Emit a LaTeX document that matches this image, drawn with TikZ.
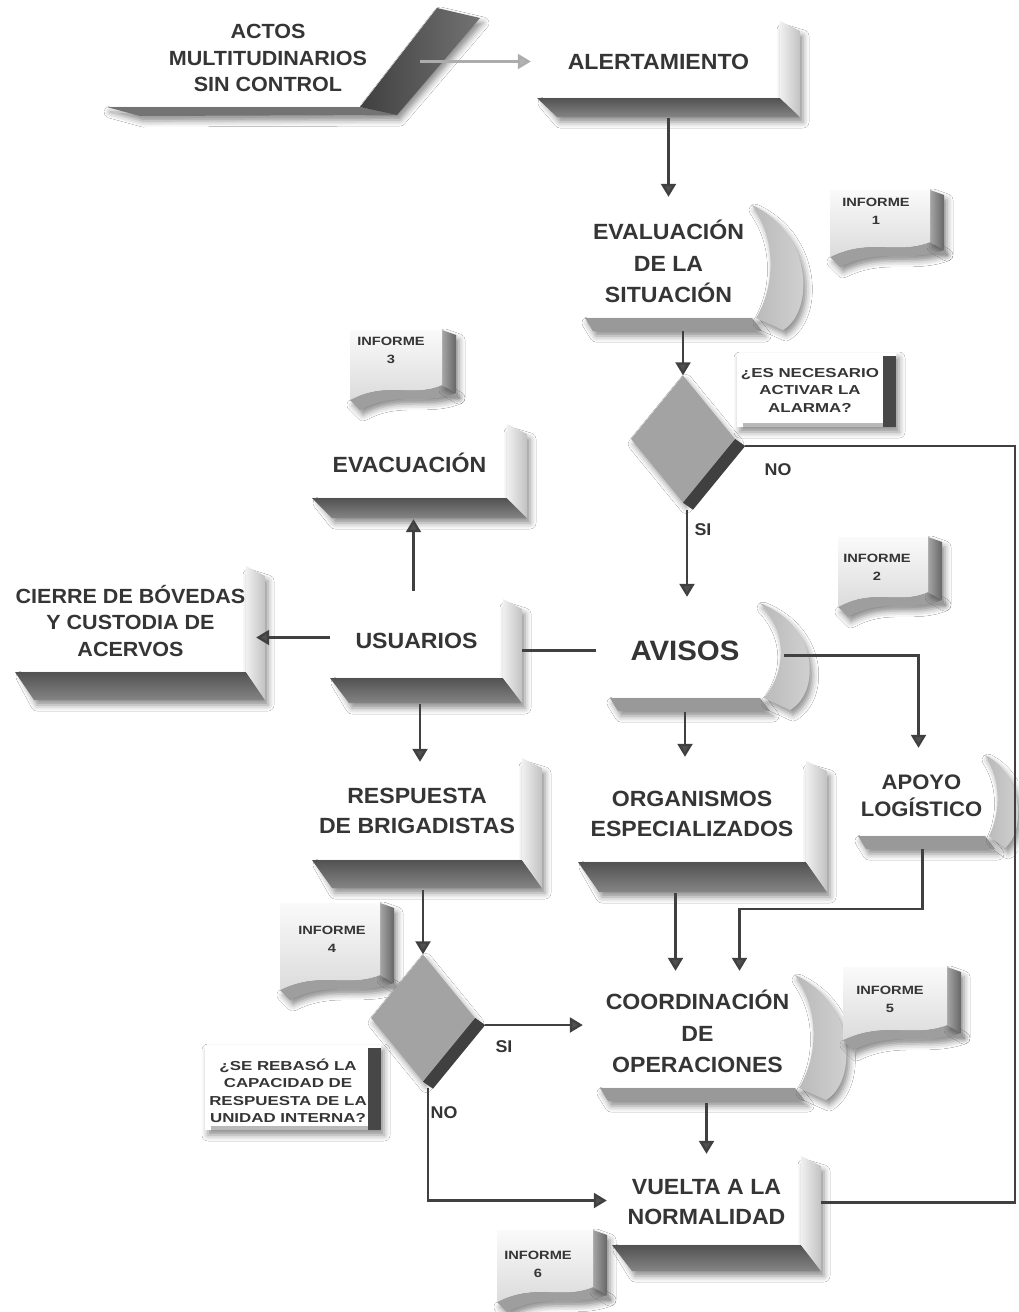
\documentclass[tikz,border=0pt]{standalone}
\usepackage{fontspec}
\setmainfont{Liberation Sans}[FakeStretch=1.05]
\newfontfamily\smallf{Liberation Sans}[FakeStretch=1.22]
\newfontfamily\qf{Liberation Sans}[FakeStretch=1.3]
\usetikzlibrary{arrows.meta,shapes.geometric,shadows.blur,calc}
\definecolor{ink}{HTML}{353535}
\definecolor{lne}{HTML}{404040}
\definecolor{tipc}{HTML}{505050}
\tikzset{
  bigtxt/.style={font=\fontsize{22}{30}\selectfont\bfseries, text=ink, align=center, inner sep=0pt},
  midtxt/.style={bigtxt, font=\fontsize{20.5}{26.5}\selectfont\bfseries},
  evtxt/.style={bigtxt, font=\fontsize{22}{31.5}\selectfont\bfseries},
  aptxt/.style={bigtxt, font=\fontsize{21}{27}\selectfont\bfseries},
  avtxt/.style={bigtxt, font=\fontsize{28}{32}\selectfont\bfseries},
  inftxt/.style={font=\smallf\bfseries\fontsize{12}{18}\selectfont, text=ink, align=center, inner sep=0pt},
  qtxt/.style={font=\qf\bfseries\fontsize{13}{17.5}\selectfont, text=ink, align=center, inner sep=0pt},
  yesno/.style={font=\fontsize{17}{20}\selectfont\bfseries, text=ink, inner sep=0pt},
  conn/.style={draw=lne, line width=2.3pt},
  arr/.style={conn, -{Triangle[width=15pt,length=13pt,fill=tipc]}},
  arrlight/.style={draw=gray!65, line width=2.3pt, -{Triangle[width=15pt,length=13pt,fill=gray!60]}},
  sh/.style={blur shadow={shadow xshift=3pt, shadow yshift=-5pt, shadow blur radius=6pt, shadow opacity=45}},
  bottomface/.style={top color=black!68, bottom color=black!48},
  sideface/.style={left color=gray!12, right color=gray!48},
  crescent/.style={left color=gray!55, right color=gray!33},
  decface/.style={shape=diamond, fill=black!36, inner sep=0pt, aspect=0.82},
}
% process box: name, x1, y1, x2, y2, dx, dy, text style, text
\newcommand\procbox[9]{%
  \path[sh] (#2+4,#5) -- (#4,#5) -- (#4,#3) -- (#4+#6,#3+6) -- (#4+#6,#5+#7) -- (#2+#6,#5+#7) -- cycle;
  \path[bottomface] (#2,#5) -- (#4,#5) -- (#4+#6,#5+#7) -- (#2+#6,#5+#7) -- cycle;
  \path[sideface] (#4,#3-4) -- (#4+#6,#3+6) -- (#4+#6,#5+#7) -- (#4,#5) -- cycle;
  \node[#8, minimum width={(#4-#2)*1pt}, minimum height={(#5-#3)*1pt}] (#1) at ({(#2+#4)/2},{(#3+#5)/2}) {#9};
}
% curved box: name, x1, y1, x2, y2, inner bulge, outer bulge, style, text
\newcommand\curvbox[9]{%
  \path[sh, fill=black!40] (#2,#5) -- (#4,#5) -- (#4+10,#5+13) -- (#2+8,#5+13) -- cycle;
  \path[sh, crescent] (#4,#3) .. controls (#4+#7,#3+0.25*#5-0.25*#3) and (#4+#7,#5-0.05*#5+0.05*#3) .. (#4+0.5*#7,#5+12)
     -- (#4+4,#5) .. controls (#4+#6,#5-0.3*#5+0.3*#3) and (#4+#6,#3+0.3*#5-0.3*#3) .. (#4,#3) -- cycle;
  \node[#8, minimum width={(#4-#2)*1pt}, minimum height={(#5-#3)*1pt}] (#1) at ({(#2+#4)/2},{(#3+#5)/2}) {#9};
}
% decision diamond: name, cx, cy
\newcommand\decbox[3]{%
  \node[decface, minimum width=104pt, minimum height=127pt, sh] (#1) at (#2,#3) {};
  \path[fill=black!75] (#1.east) -- ($(#1.east)+(10pt,-7pt)$) -- ($(#1.south)+(10pt,-7pt)$) -- (#1.south) -- cycle;
}
% document (INFORME) box: x1, y1, x2, y2
\newcommand\docbox[4]{%
  \path[sh, fill=black!38] (#1,#4) .. controls (#1+0.4*#3-0.4*#1,#4-20) and (#3-0.35*#3+0.35*#1,#4-2) .. (#3,#4-15)
     -- (#3+14,#4-7) .. controls (#3+14-0.35*#3+0.35*#1,#4+6) and (#1+10+0.4*#3-0.4*#1,#4-10) .. (#1+10,#4+10) -- cycle;
  \path[sh, left color=black!35, right color=black!60] (#3,#2) -- (#3+14,#2+5) -- (#3+14,#4-7) -- (#3,#4-15) -- cycle;
  \path[top color=gray!4, bottom color=gray!28] (#1,#2) -- (#3,#2) -- (#3,#4-15) .. controls (#3-0.35*#3+0.35*#1,#4-2) and (#1+0.4*#3-0.4*#1,#4-20) .. (#1,#4) -- cycle;
}
% question box: x1, y1, x2 (bar start), y2
\newcommand\qbox[4]{%
  \path[sh, fill=white] (#1,#2) rectangle (#3+13,#4);
  \path[fill=gray!55] (#1+6,#4-4) rectangle (#3,#4);
  \path[fill=black!72] (#3,#2+3) rectangle (#3+13,#4);
}
\begin{document}
\begin{tikzpicture}[x=1pt,y=-1pt]
\fill[white] (0,0) rectangle (1018,1312);
\useasboundingbox (0,0) rectangle (1018,1312);

% ACTOS MULTITUDINARIOS
\path[sh] (107,107) -- (360,107) -- (437,8) -- (480,18) -- (397,115) -- (140,116) -- cycle;
\path[fill=black!55] (107,107) -- (360,107) -- (397,115) -- (140,116) -- cycle;
\path[left color=black!75, right color=black!55] (360,107) -- (437,8) -- (480,18) -- (397,115) -- cycle;
\node[midtxt, minimum width=280pt, minimum height=99pt] (actos) at (268,58) {ACTOS\\MULTITUDINARIOS\\SIN CONTROL};

\procbox{alert}{537}{25}{780}{98}{20}{19}{bigtxt}{ALERTAMIENTO}
\curvbox{eval}{585}{205}{752}{318}{24}{62}{evtxt}{EVALUACIÓN\\DE LA\\SITUACIÓN}
\docbox{830}{190}{930}{257}
\node[inftxt] (inf1) at (876,211) {INFORME\\1};
\qbox{737}{353}{883}{427}
\node[qtxt] (q1) at (810,390) {¿ES NECESARIO\\ACTIVAR LA\\ALARMA?};
\decbox{d1}{683}{439}
\docbox{350}{330}{442}{400}
\node[inftxt] (inf3) at (391,350) {INFORME\\3};
\procbox{evac}{312}{428}{507}{498}{20}{20}{bigtxt}{EVACUACIÓN}
\docbox{838}{537}{928}{607}
\node[inftxt] (inf2) at (877,567) {INFORME\\2};
\procbox{cierre}{15}{570}{246}{672}{19}{28}{midtxt}{CIERRE DE BÓVEDAS\\Y CUSTODIA DE\\ACERVOS}
\procbox{usu}{330}{603}{503}{678}{19}{25}{bigtxt}{USUARIOS}
\curvbox{avisos}{610}{603}{760}{698}{27}{60}{avtxt}{AVISOS}
\curvbox{apoyo}{858}{755}{985}{836}{16}{40}{aptxt}{APOYO\\LOGÍSTICO}
\procbox{resp}{312}{762}{522}{860}{20}{28}{bigtxt}{RESPUESTA\\DE BRIGADISTAS}
\procbox{org}{578}{765}{806}{862}{21}{30}{bigtxt}{ORGANISMOS\\ESPECIALIZADOS}
\docbox{280}{903}{380}{990}
\node[inftxt] (inf4) at (332,939) {INFORME\\4};
\decbox{d2}{423}{1018}
\qbox{205}{1045}{368}{1130}
\node[qtxt] (q2) at (288,1091) {¿SE REBASÓ LA\\CAPACIDAD DE\\RESPUESTA DE LA\\UNIDAD INTERNA?};
\curvbox{coord}{600}{975}{795}{1088}{24}{62}{evtxt}{COORDINACIÓN\\DE\\OPERACIONES}
\docbox{843}{967}{947}{1040}
\node[inftxt] (inf5) at (890,999) {INFORME\\5};
\procbox{vuelta}{612}{1160}{801}{1245}{20}{26}{bigtxt}{VUELTA A LA\\NORMALIDAD}
\docbox{497}{1230}{593}{1302}
\node[inftxt] (inf6) at (538,1264) {INFORME\\6};

% labels
\node[yesno] (no1) at (778,470) {NO};
\node[yesno] (si1) at (703,530) {SI};
\node[yesno] (si2) at (504,1047) {SI};
\node[yesno] (no2) at (444,1113) {NO};

% connectors
\coordinate (redge) at (1015,0);
\draw[arrlight] ($(actos.east |- alert.west)+(12pt,0)$) -- ($(alert.west)+(-6pt,0)$);
\draw[arr] ($(eval.north |- alert.south)+(0,-20pt)$) -- ($(eval.north)+(0,8pt)$);
\draw[arr] ($(d1.north |- eval.south)+(0,-13pt)$) -- (d1.north);
\draw[arr] ($(d1.south)+(4pt,-7pt)$) -- ($(d1.south |- avisos.north)+(4pt,6pt)$);
\draw[conn] ($(d1.east)+(10pt,-7pt)$) coordinate (dno) -- (dno -| redge) -- (redge |- vuelta.east) -- ($(vuelta.east)+(20pt,0)$);
\draw[conn] ($(avisos.west)+(-14pt,0)$) -- ($(usu.east |- avisos.west)+(19pt,0)$);
\draw[arr] ($(avisos.east)+(24pt,-5pt)$) -| ($(apoyo.north)+(-3pt,7pt)$);
\draw[arr] ($(avisos.south)+(0,-14pt)$) -- ($(avisos.south |- org.north)+(0,8pt)$);
\draw[arr] ($(usu.west)+(0,3pt)$) -- ($(cierre.east |- usu.west)+(10pt,3pt)$);
\draw[arr] ($(usu.north)+(-3pt,12pt)$) -- ($(usu.north |- evac.south)+(-3pt,-21pt)$);
\draw[arr] ($(resp.north |- usu.south)+(3pt,-26pt)$) -- ($(resp.north)+(3pt,0)$);
\draw[arr] ($(d2.north |- resp.south)+(0,-30pt)$) -- (d2.north);
\draw[arr] ($(d2.east)+(10pt,-7pt)$) -- ($(coord.west |- d2.east)+(-17pt,-7pt)$);
\draw[arr] ($(d2.south)+(5pt,-6pt)$) |- ($(vuelta.west)+(-5pt,2pt)$);
\draw[arr] ($(coord.north |- org.south)+(-22pt,-31pt)$) -- ($(coord.north)+(-22pt,4pt)$);
\draw[arr] ($(apoyo.south)+(1pt,-13pt)$) |- ($(coord.north)+(42pt,66pt)$) -- ($(coord.north)+(42pt,4pt)$);
\draw[arr] ($(vuelta.north |- coord.south)+(0,-15pt)$) -- ($(vuelta.north)+(0,6pt)$);
\end{tikzpicture}
\end{document}
